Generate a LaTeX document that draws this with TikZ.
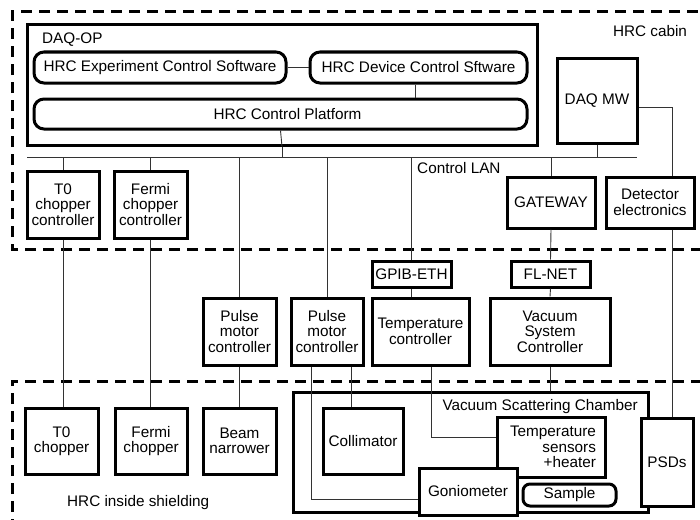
\documentclass[tikz,border=0pt]{standalone}
\usepackage{fontspec}
\setmainfont{Liberation Sans}
\usetikzlibrary{calc}
\begin{document}
\begin{tikzpicture}[x=1pt,y=-1pt,
  font=\fontsize{15.3}{15.5}\selectfont,
  box/.style={draw, line width=3pt, fill=white, inner sep=0pt, align=center},
  rbox/.style={box, rounded corners=10pt},
  sz/.style 2 args={minimum width=#1pt, minimum height=#2pt},
  conn/.style={line width=0.9pt, draw=black!80},
  zone/.style={line width=3pt, dash pattern=on 11pt off 7pt},
  lbl/.style={inner sep=0pt}]
\useasboundingbox (0,0) rectangle (700,519);
\clip (0,0) rectangle (700,519);

% zones
\draw[zone] (720,249) -- (12,249) -- (12,12) -- (720,12);
\draw[zone] (12,530) -- (12,381) -- (720,381);
\node[lbl] (cabin) at (650,31) {HRC cabin};
\node[lbl, anchor=west] (shield) at (67,503) {HRC inside shielding};

% DAQ-OP
\node[box, sz={510}{120}] (daqop) at (282,85) {};
\node[lbl, anchor=west] (daqoplbl) at (42,40) {DAQ-OP};
\node[rbox, sz={252}{31}] (ecs) at (160,67.5) {HRC Experiment Control Software};
\node[rbox, sz={217}{31}] (dcs) at (418.5,67.5) {HRC Device Control Sftware};
\node[rbox, sz={493}{30}] (plat) at (280.5,114) {\hspace*{14pt}HRC Control Platform};
\node[box, sz={80}{85}] (daqmw) at (597,100.5) {DAQ MW};

% LAN
\coordinate (lanL) at (27,157);
\coordinate (lanR) at (637,157);
\draw[conn] (lanL) -- (lanR);
\node[lbl, anchor=west] (lan) at (417,168) {Control LAN};

% cabin boxes
\node[box, sz={72}{67}] (t0c) at (63,204.5) {T0\\chopper\\controller};
\node[box, sz={73}{67}] (fcc) at (150.5,204.5) {Fermi\\chopper\\controller};
\node[box, sz={88}{51}] (gw) at (551,202.5) {GATEWAY};
\node[box, sz={88}{51}] (dete) at (650,202.5) {Detector\\electronics};

% middle boxes
\node[box, sz={79}{26}] (gpib) at (411.5,274) {GPIB-ETH};
\node[box, sz={79}{26}] (flnet) at (550.5,274) {FL-NET};
\node[box, sz={73}{67}] (pmc1) at (239.5,331.5) {Pulse\\motor\\controller};
\node[box, sz={72}{67}] (pmc2) at (327,331.5) {Pulse\\motor\\controller};
\node[box, sz={97}{67}] (tc) at (420.5,331.5) {Temperature\\controller};
\node[box, sz={120}{67}] (vsc) at (550,331.5) {Vacuum\\System\\Controller};

% shielding boxes
\node[box, sz={73}{66}] (t0) at (61.5,441) {T0\\chopper};
\node[box, sz={72}{66}] (fc) at (151,441) {Fermi\\chopper};
\node[box, sz={73}{66}] (bn) at (239.5,441) {Beam\\narrower};
\node[box, sz={355}{120}] (ch) at (470.5,452) {};
\node[lbl, anchor=east] (chlbl) at (638,407) {Vacuum Scattering Chamber};
\node[box, sz={80}{66}] (coll) at (363,441) {Collimator};
\node[box, sz={108}{60}, align=right] (ts) at (551,447) {\hspace*{4pt}Temperature\\sensors\\+heater};
\node[box, sz={98}{47}] (gon) at (468,491.5) {Goniometer};
\node[rbox, rounded corners=7pt, sz={93}{22}] (smp) at (569.5,495) {Sample};
\node[box, sz={52}{88}] (psd) at (667,462) {PSDs};

% helper coordinates
\coordinate (detx) at (672,0);
\coordinate (p2a) at (311,0);
\coordinate (p2b) at (351,0);
\coordinate (tcx) at (431,0);
\coordinate (dcsx) at (415,0);

% connectors
\draw[conn] (ecs.east) -- (dcs.west);
\draw[conn] (dcs.south -| dcsx) -- (plat.north -| dcsx);
\draw[conn] (plat.south) -- (daqop.south);
\draw[conn] (daqop.south) -- (daqop.south |- lanL);
\draw[conn] (daqmw.south) -- (daqmw.south |- lanL);
\draw[conn] ($(daqmw.east)+(0,6.5)$) -| (dete.north -| detx);
\draw[conn] (dete.south -| detx) -- (psd.north -| detx);
\draw[conn] (t0c.north) -- (t0c.north |- lanL);
\draw[conn] (fcc.north) -- (fcc.north |- lanL);
\draw[conn] (pmc1.north) -- (pmc1.north |- lanL);
\draw[conn] (pmc2.north) -- (pmc2.north |- lanL);
\draw[conn] (gpib.north) -- (gpib.north |- lanL);
\draw[conn] (gw.north) -- (gw.north |- lanL);
\draw[conn] (gw.south) -- (flnet.north);
\draw[conn] (flnet.south) -- (vsc.north);
\draw[conn] (gpib.south) -- (gpib.south |- tc.north);
\draw[conn] (t0c.south) -- (t0c.south |- t0.north);
\draw[conn] (fcc.south) -- (fcc.south |- fc.north);
\draw[conn] (pmc1.south) -- (pmc1.south |- bn.north);
\draw[conn] (pmc2.south -| p2b) -- (coll.north -| p2b);
\draw[conn] (pmc2.south -| p2a) |- ($(gon.west)+(0,7.5)$);
\draw[conn] (tc.south -| tcx) |- ($(ts.west)+(0,-10)$);
\draw[conn] (vsc.south) -- (vsc.south |- ch.north);
\end{tikzpicture}
\end{document}
